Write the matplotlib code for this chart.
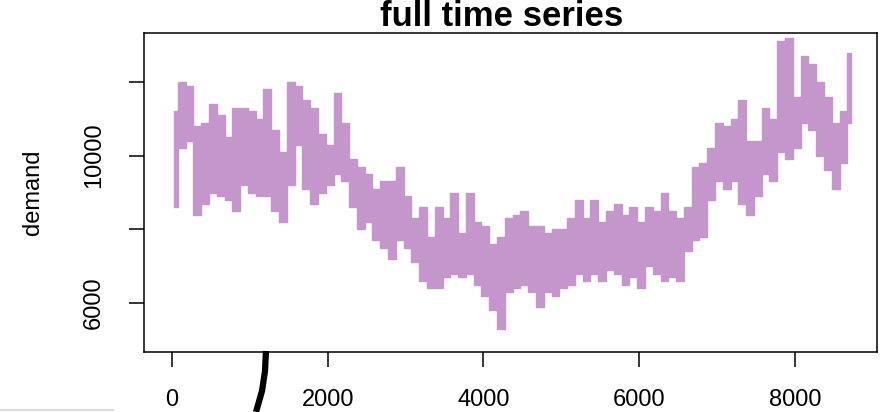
import numpy as np
import matplotlib
matplotlib.use('Agg')
import matplotlib.pyplot as plt
from matplotlib.lines import Line2D

# hourly demand: daily troughs / peaks per 100 h block
low = [8600, 10200, 10400, 8400, 8700, 9000, 8900, 8800, 8500, 9200,
       9000, 8900, 8900, 8500, 8200, 9200, 10300, 9100, 8700, 9000,
       9200, 9500, 9300, 8600, 8000, 8200, 7700, 7500, 7200, 7700,
       7500, 7100, 6600, 6400, 6400, 6700, 6800, 6700, 6800, 6500,
       6200, 5800, 5300, 6300, 6400, 6500, 6300, 5900, 6300, 6200,
       6400, 6500, 6800, 6600, 6800, 6600, 6900, 6800, 6500, 6700,
       6400, 7000, 6800, 6600, 6700, 6600, 7400, 7700, 7800, 8800,
       9300, 9100, 9300, 8700, 8400, 8900, 9500, 9300, 10100, 9900,
       10200, 10900, 10700, 10000, 9600, 9100, 9800, 10900]
high = [11200, 12000, 11900, 10800, 10900, 11400, 11100, 10500, 11300, 11300,
        11200, 11000, 11800, 10700, 10100, 12000, 11900, 11500, 11300, 10600,
        10300, 11700, 10900, 9900, 9700, 9500, 9100, 9300, 9300, 9700,
        8900, 8300, 8600, 7800, 8600, 8300, 9000, 7900, 9000, 8200,
        8100, 7600, 7800, 8300, 8400, 8500, 8100, 8100, 7900, 8000,
        8000, 8300, 8800, 8300, 8800, 8200, 8500, 8700, 8400, 8600,
        8200, 8600, 8500, 9000, 8500, 8300, 8600, 9700, 9800, 10200,
        10900, 10800, 11000, 11500, 10400, 10400, 11300, 11000, 13100, 13200,
        11600, 12700, 12500, 12000, 11600, 10900, 11200, 12800]

x_ticks = [0, 2000, 4000, 6000, 8000]
x_tick_labels = ['0', '2000', '4000', '6000', '8000']
y_ticks = [6000, 8000, 10000, 12000]
y_tick_labels = ['6000', '', '10000', '']  # R drops the overlapping ones

# stray pen stroke on the screenshot (pixel coords)
stroke_x = [266, 265, 262, 256]
stroke_y = [351, 371, 391, 412]

block_hours = np.arange(len(low)) * 100 + 25

plt.rcParams['font.family'] = ['Liberation Sans', 'DejaVu Sans']

W, H = 885, 412
fig = plt.figure(figsize=(W / 100, H / 100), dpi=100)
ax = fig.add_axes([144 / W, 60 / H, 733 / W, 319 / H])

col = '#c496cc'
ax.fill_between(block_hours, low, high, step='mid', facecolor=col,
                edgecolor=col, lw=1.0)

ax.set_xlim(-360, 9056)
ax.set_ylim(4670, 13330)
ax.set_xticks(x_ticks)
ax.set_xticklabels(x_tick_labels)
ax.set_yticks(y_ticks)
ax.set_yticklabels(y_tick_labels, rotation=90, va='center')
ax.tick_params(direction='out', length=11, width=1.1, labelsize=17)
ax.tick_params(axis='x', pad=16)
ax.tick_params(axis='y', pad=17)
for s in ax.spines.values():
    s.set_linewidth(1.1)

ax.set_title('full time series', fontsize=25, fontweight='bold', pad=2, x=0.488)
ax.set_ylabel('demand', fontsize=17, labelpad=28)

fig.add_artist(Line2D(np.array(stroke_x) / W, 1 - np.array(stroke_y) / H,
                      transform=fig.transFigure, color='black', lw=4.5,
                      solid_capstyle='butt'))
fig.add_artist(Line2D([0, 113 / W], [1 - 410 / H, 1 - 410 / H],
                      transform=fig.transFigure, color='#d6d6d6', lw=1.2))

fig.savefig('out.png', dpi=100)
